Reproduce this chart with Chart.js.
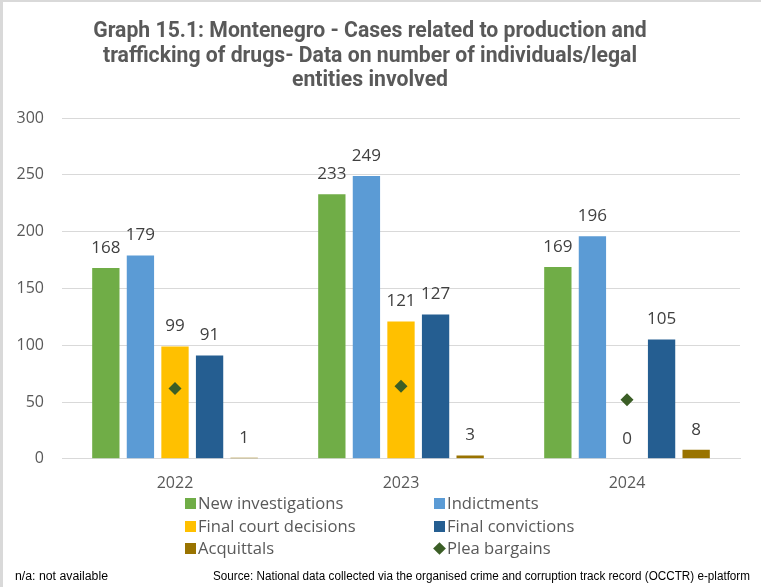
<!DOCTYPE html>
<html>
<head>
<meta charset="utf-8">
<script src="https://cdn.jsdelivr.net/npm/chart.js@4.4.1/dist/chart.umd.min.js"></script>
<style>
  html, body { margin: 0; padding: 0; background: #fff; }
  #wrap { position: relative; width: 761px; height: 587px; overflow: hidden; background: #fff; }
  #chartBox { position: absolute; left: 0; top: 0; width: 761px; height: 587px; }
  .bTop { position: absolute; left: 0; top: 0; width: 761px; height: 2px; background: #d9d9d9; }
  .bLeft { position: absolute; left: 0; top: 0; width: 3px; height: 587px; background: #d9d9d9; }
  .leg { position: absolute; font-family: "Open Sans", sans-serif; font-size: 16.6px; color: #595959; white-space: nowrap; line-height: 20px; }
  .sw { display: inline-block; width: 11px; height: 11px; margin-right: 2px; vertical-align: -0px; }
  .dia { display: inline-block; width: 9px; height: 9px; margin: 0 3px 1px 1px; transform: rotate(45deg); }
  .foot { position: absolute; font-family: "Liberation Sans Narrow", "Liberation Sans", sans-serif; font-size: 12px; color: #000; white-space: nowrap; transform-origin: 0 50%; }
</style>
</head>
<body>
<div id="wrap">
  <div id="chartBox"><canvas id="c"></canvas></div>
  <div id="legend"></div>
  <div class="foot" id="na" style="left:15px; top:569px;">n/a: not available</div>
  <div class="foot" id="src" style="left:213px; top:569px;">Source: National data collected via the organised crime and corruption track record (OCCTR) e-platform</div>
  <div class="bTop"></div>
  <div class="bLeft"></div>
</div>
<script>
const titleLines = [
  "Graph 15.1: Montenegro - Cases related to production and",
  "trafficking of drugs- Data on number of individuals/legal",
  "entities involved"
];
const categories = ["2022", "2023", "2024"];
const newInvestigations = [168, 233, 169];
const indictments = [179, 249, 196];
const finalCourtDecisions = [99, 121, 0];
const finalConvictions = [91, 127, 105];
const acquittals = [1, 3, 8];
const pleaBargains = [62, 64, 52];
const yTicks = [0, 50, 100, 150, 200, 250, 300];

const colors = {
  ni: "#70AD47", ind: "#5B9BD5", fcd: "#FFC000", fc: "#255E91", acq: "#997300", pb: "#3B5E26"
};

const barDs = (label, data, color) => ({
  type: "bar", label, data, backgroundColor: color, borderWidth: 0,
  categoryPercentage: 0.765, barPercentage: 0.79, order: 2
});

const datasets = [
  barDs("New investigations", newInvestigations, colors.ni),
  barDs("Indictments", indictments, colors.ind),
  barDs("Final court decisions", finalCourtDecisions, colors.fcd),
  barDs("Final convictions", finalConvictions, colors.fc),
  barDs("Acquittals", acquittals, colors.acq),
  { type: "line", label: "Plea bargains", data: pleaBargains, showLine: false,
    pointStyle: "rectRot", pointRadius: 6.5, pointHoverRadius: 6.5,
    backgroundColor: colors.pb, borderColor: colors.pb, borderWidth: 0, order: 1 }
];

const valueLabels = {
  id: "valueLabels",
  afterDatasetsDraw(chart) {
    const ctx = chart.ctx;
    ctx.save();
    ctx.font = "17px 'Open Sans', sans-serif";
    ctx.fillStyle = "#404040";
    ctx.textAlign = "center";
    ctx.textBaseline = "middle";
    chart.data.datasets.forEach((ds, i) => {
      if (ds.type !== "bar") return;
      const meta = chart.getDatasetMeta(i);
      meta.data.forEach((el, j) => {
        ctx.fillText(String(ds.data[j]), el.x, el.y - 20);
      });
    });
    ctx.restore();
  }
};

new Chart(document.getElementById("c"), {
  type: "bar",
  data: { labels: categories, datasets },
  options: {
    responsive: true, maintainAspectRatio: false, animation: false,
    layout: { padding: { top: 0, left: 0, right: 21, bottom: 79 } },
    plugins: {
      legend: { display: false },
      tooltip: { enabled: false },
      title: {
        display: true, text: titleLines, color: "#595959",
        font: { family: "Roboto, sans-serif", size: 21.2, weight: "bold", lineHeight: 1.15 },
        padding: { top: 20, bottom: 25 }
      }
    },
    scales: {
      x: {
        grid: { display: false, drawTicks: false },
        border: { display: true, color: "#d9d9d9", width: 1 },
        ticks: { color: "#595959", font: { family: "'Open Sans', sans-serif", size: 16 }, padding: 15 }
      },
      y: {
        min: 0, max: 300,
        afterBuildTicks(scale) { scale.ticks = yTicks.map(v => ({ value: v })); },
        afterFit(scale) { scale.width = 62; },
        grid: { color: "#d9d9d9", lineWidth: 1, drawTicks: false },
        border: { display: false },
        ticks: { color: "#595959", font: { family: "'Open Sans', sans-serif", size: 16 }, padding: 18 }
      }
    }
  },
  plugins: [valueLabels]
});

// HTML legend
const legendItems = [
  ["New investigations", colors.ni, "sq", 185, 502],
  ["Indictments", colors.ind, "sq", 434, 502],
  ["Final court decisions", colors.fcd, "sq", 185, 525],
  ["Final convictions", colors.fc, "sq", 434, 525],
  ["Acquittals", colors.acq, "sq", 185, 547],
  ["Plea bargains", colors.pb, "dia", 434, 547]
];
const legEl = document.getElementById("legend");
legendItems.forEach(([t, c, kind, x, y]) => {
  const d = document.createElement("div");
  d.className = "leg";
  d.style.left = x + "px";
  d.style.top = (y - 9) + "px";
  const s = document.createElement("span");
  s.className = kind === "sq" ? "sw" : "dia";
  s.style.background = c;
  d.appendChild(s);
  d.appendChild(document.createTextNode(t));
  legEl.appendChild(d);
});

// fit footer texts to widths
function fitW(id, w) {
  const el = document.getElementById(id);
  const cw = el.getBoundingClientRect().width;
  el.style.transform = "scaleX(" + (w / cw) + ")";
}
fitW("na", 93);
fitW("src", 537);
</script>
</body>
</html>
